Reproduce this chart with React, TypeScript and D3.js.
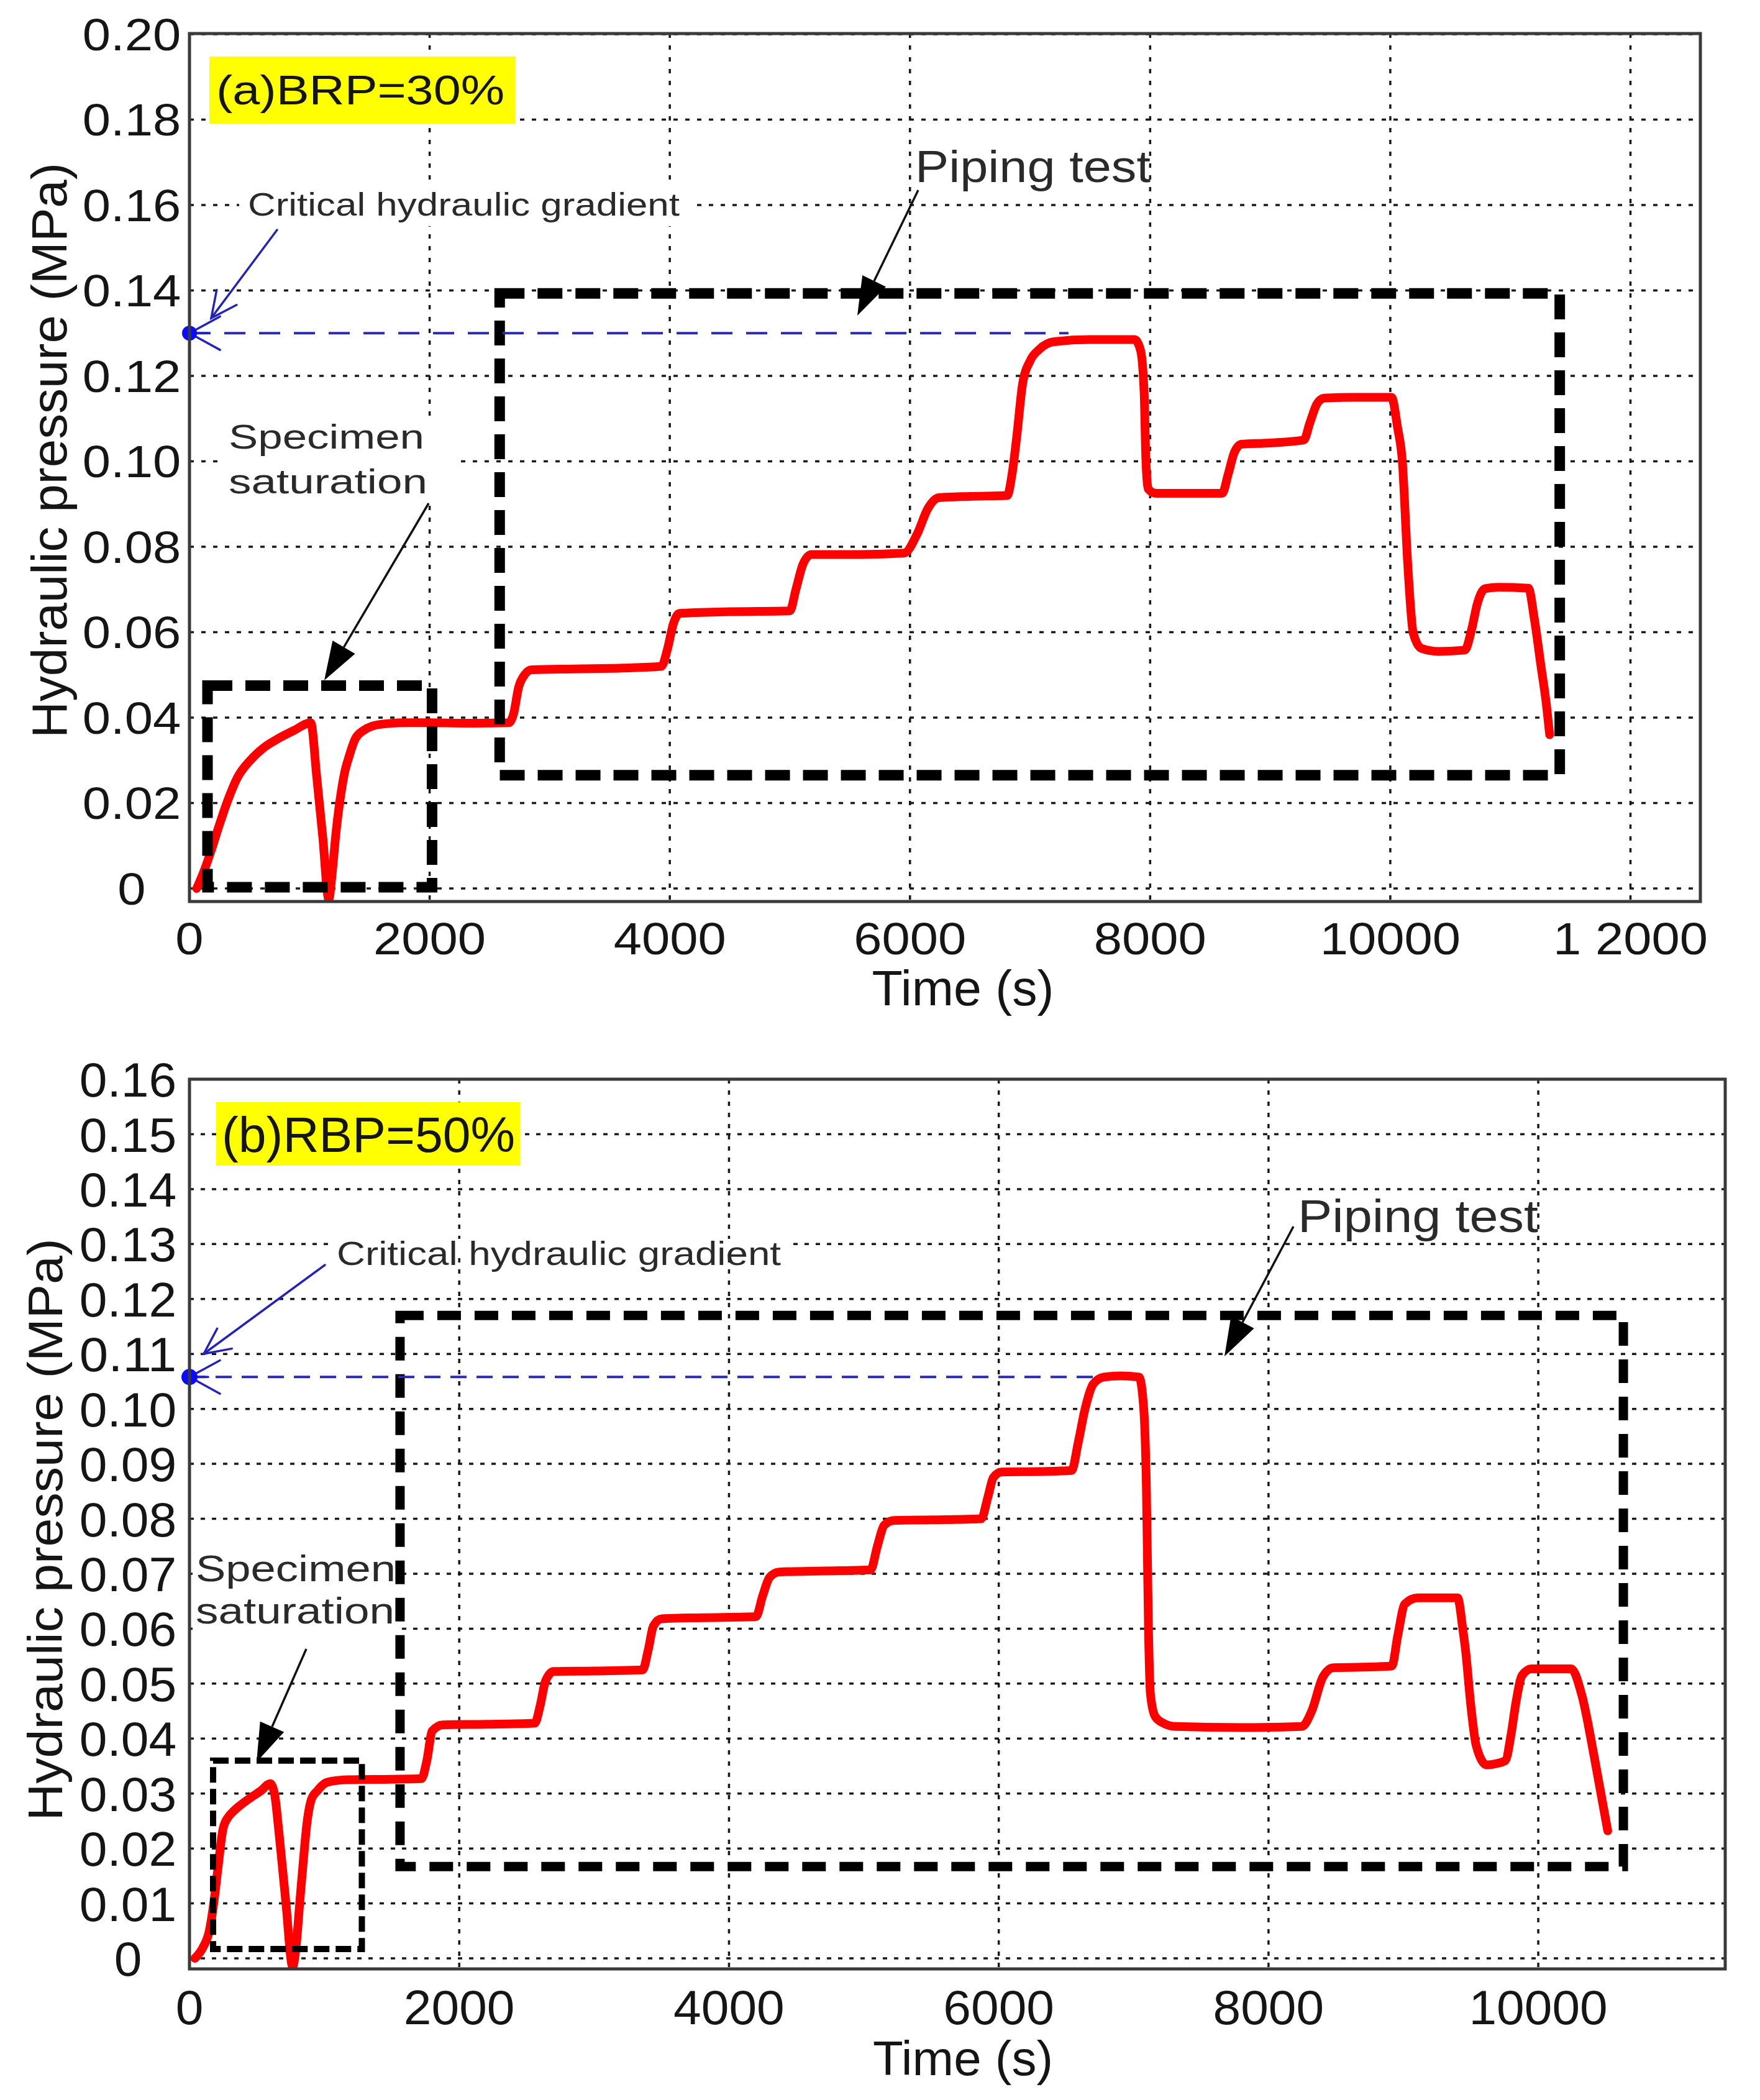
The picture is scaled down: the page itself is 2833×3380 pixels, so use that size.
import React from 'react'
import * as d3 from 'd3'

const W = 2833
const H = 3380
const FONT = '"Liberation Sans", Arial, Helvetica, sans-serif'

// ---- panel (a) BRP = 30% ----
const timeA = [
  60, 120, 181, 250, 320, 400, 506, 620, 733, 870, 1010, 1060, 1110, 1160, 1190, 1219, 1250, 1291,
  1330, 1380, 1450, 1519, 1650, 1800, 2000, 2300, 2660, 2700, 2740, 2790, 2850, 3200, 3600, 3930,
  3980, 4030, 4080, 4500, 5000, 5050, 5110, 5180, 5600, 5950, 6060, 6150, 6240, 6500, 6810, 6850,
  6890, 6937, 7000, 7076, 7200, 7500, 7870, 7920, 7950, 7965, 7985, 8050, 8300, 8600, 8650, 8700,
  8760, 9000, 9280, 9330, 9390, 9450, 9700, 10010, 10060, 10100, 10144, 10191, 10260, 10400, 10620,
  10680, 10723, 10790, 10900, 11150, 11200, 11255, 11300, 11327,
]
const pressureA = [
  0, 0.004, 0.0089, 0.015, 0.0207, 0.026, 0.03, 0.033, 0.035, 0.037, 0.0388, 0.026, 0.012, -0.0025,
  0.004, 0.0128, 0.02, 0.027, 0.031, 0.035, 0.037, 0.038, 0.0386, 0.0388, 0.0388, 0.0387, 0.0388,
  0.041, 0.047, 0.05, 0.0512, 0.0514, 0.0516, 0.052, 0.056, 0.062, 0.0644, 0.0648, 0.065, 0.07,
  0.076, 0.0782, 0.0782, 0.0785, 0.083, 0.089, 0.0915, 0.0918, 0.092, 0.097, 0.106, 0.118, 0.1235,
  0.1262, 0.128, 0.1285, 0.1285, 0.126, 0.116, 0.1, 0.0935, 0.0925, 0.0925, 0.0925, 0.097, 0.102,
  0.104, 0.1043, 0.105, 0.109, 0.1135, 0.1148, 0.115, 0.115, 0.108, 0.1, 0.0765, 0.0598, 0.0562,
  0.0555, 0.0558, 0.061, 0.0665, 0.0702, 0.0705, 0.0703, 0.063, 0.052, 0.043, 0.036,
]
const xTicksA = [0, 2000, 4000, 6000, 8000, 10000, 12000]
const xTickLabelsA = ['0', '2000', '4000', '6000', '8000', '10000', '1 2000']
const yTicksA = [0, 0.02, 0.04, 0.06, 0.08, 0.1, 0.12, 0.14, 0.16, 0.18, 0.2]
const yTickLabelsA = ['0', '0.02', '0.04', '0.06', '0.08', '0.10', '0.12', '0.14', '0.16', '0.18', '0.20']
const criticalA = 0.13
const criticalEndA = 7320
const saturationBoxA = [150, 2020, 0.0003, 0.0475] // t0, t1, p0, p1
const pipingBoxA = [2583, 11411, 0.0265, 0.1393]

// ---- panel (b) RBP = 50% ----
const timeB = [
  40, 100, 147, 185, 212, 249, 290, 327, 400, 456, 530, 598, 630, 663, 714, 765, 790, 818, 845, 869,
  905, 948, 1000, 1050, 1179, 1500, 1720, 1760, 1800, 1878, 2200, 2560, 2600, 2640, 2700, 3000, 3360,
  3400, 3440, 3500, 3800, 4200, 4250, 4300, 4370, 4700, 5050, 5100, 5150, 5220, 5500, 5870, 5920,
  5960, 6020, 6300, 6540, 6590, 6640, 6700, 6780, 6900, 7040, 7075, 7095, 7110, 7125, 7160, 7220,
  7308, 7800, 8247, 8320, 8403, 8481, 8700, 8914, 8960, 9011, 9107, 9402, 9440, 9462, 9500, 9540,
  9618, 9700, 9756, 9800, 9834, 9880, 9950, 10244, 10322, 10420, 10515,
]
const pressureB = [
  0, 0.002, 0.005, 0.011, 0.0166, 0.0236, 0.0258, 0.0268, 0.0283, 0.0293, 0.0305, 0.0318, 0.03,
  0.023, 0.0103, -0.0015, 0.002, 0.0103, 0.018, 0.0242, 0.029, 0.0305, 0.0318, 0.0322, 0.0325,
  0.0326, 0.0327, 0.036, 0.0414, 0.0425, 0.0426, 0.0428, 0.046, 0.0505, 0.0522, 0.0523, 0.0525,
  0.056, 0.0605, 0.0618, 0.062, 0.0622, 0.066, 0.0693, 0.0703, 0.0705, 0.0707, 0.075, 0.0788,
  0.0797, 0.0798, 0.08, 0.084, 0.0875, 0.0885, 0.0886, 0.0888, 0.094, 0.1, 0.1045, 0.1058, 0.106,
  0.1058, 0.1, 0.085, 0.06, 0.048, 0.044, 0.0428, 0.0422, 0.042, 0.0422, 0.045, 0.0512, 0.0529,
  0.053, 0.0532, 0.059, 0.0645, 0.0656, 0.0656, 0.06, 0.0558, 0.046, 0.0387, 0.0352, 0.0355, 0.036,
  0.041, 0.0465, 0.0515, 0.0527, 0.0527, 0.048, 0.036, 0.0232,
]
const xTicksB = [0, 2000, 4000, 6000, 8000, 10000]
const xTickLabelsB = ['0', '2000', '4000', '6000', '8000', '10000']
const yTicksB = [0, 0.01, 0.02, 0.03, 0.04, 0.05, 0.06, 0.07, 0.08, 0.09, 0.1, 0.11, 0.12, 0.13, 0.14, 0.15, 0.16]
const yTickLabelsB = [
  '0', '0.01', '0.02', '0.03', '0.04', '0.05', '0.06', '0.07', '0.08', '0.09', '0.10', '0.11', '0.12',
  '0.13', '0.14', '0.15', '0.16',
]
const criticalB = 0.1058
const criticalEndB = 6720
const saturationBoxB = [175, 1278, 0.0017, 0.036]
const pipingBoxB = [1561, 10631, 0.0167, 0.117]

const CHAR_W: Record<string, number> = { '.': 0.278, ' ': 0.278 }
const textWidth = (s: string, size: number) =>
  s.split('').reduce((acc, c) => acc + (CHAR_W[c] ?? 0.556), 0) * size

type Arrow = { x1: number; y1: number; x2: number; y2: number }

function SolidArrow({ x1, y1, x2, y2 }: Arrow) {
  const a = Math.atan2(y2 - y1, x2 - x1)
  const len = 62
  const half = 21
  const bx = x2 - len * Math.cos(a)
  const by = y2 - len * Math.sin(a)
  const px = -Math.sin(a) * half
  const py = Math.cos(a) * half
  return (
    <g>
      <line x1={x1} y1={y1} x2={bx} y2={by} stroke="#111" strokeWidth={3.5} />
      <polygon points={`${x2},${y2} ${bx + px},${by + py} ${bx - px},${by - py}`} fill="#000" />
    </g>
  )
}

function OpenArrow({ x1, y1, x2, y2, len = 46, spread = 0.45, color = '#2323b8', width = 3.5 }: Arrow & {
  len?: number
  spread?: number
  color?: string
  width?: number
}) {
  const a = Math.atan2(y1 - y2, x1 - x2)
  const arm = (s: number) => [x2 + len * Math.cos(a + s), y2 + len * Math.sin(a + s)]
  const [ax, ay] = arm(spread)
  const [bx, by] = arm(-spread)
  return (
    <g stroke={color} strokeWidth={width} fill="none" strokeLinecap="round">
      <line x1={x1} y1={y1} x2={x2} y2={y2} />
      <polyline points={`${ax},${ay} ${x2},${y2} ${bx},${by}`} />
    </g>
  )
}

interface PanelConfig {
  frame: { left: number; right: number; top: number; bottom: number }
  xDomain: [number, number]
  yDomain: [number, number]
  times: number[]
  pressures: number[]
  xTicks: number[]
  xTickLabels: string[]
  yTicks: number[]
  yTickLabels: string[]
  critical: number
  criticalEnd: number
  satBox: number[]
  pipeBox: number[]
  id: string
  look: {
    tickSize: number
    tickStretch: number
    yLabelX: number
    xLabelY: number
    gridDash: string
    boxStroke: number
    boxDash: string
    satStroke: number
    satDash: string
    blueDash: string
    dotR: number
  }
  label: { rect: number[]; text: string; x: number; y: number; size: number; len: number }
  crit: { x: number; y: number; size: number; len: number; bg: number[]; arrow: Arrow }
  piping: { x: number; y: number; size: number; len: number; arrow: Arrow }
  spec: { x: number; y1: number; y2: number; size: number; len1: number; len2: number; bg: number[]; arrow: Arrow }
  yTitle: { x: number; y: number; size: number; len: number }
  xTitle: { x: number; y: number; size: number; len: number }
}

function Panel({ cfg }: { cfg: PanelConfig }) {
  const { frame, look } = cfg
  const x = d3.scaleLinear().domain(cfg.xDomain).range([frame.left, frame.right])
  const y = d3.scaleLinear().domain(cfg.yDomain).range([frame.bottom, frame.top])
  const pts = cfg.times.map((t, i) => [t, cfg.pressures[i]] as [number, number])
  const line = d3
    .line<[number, number]>()
    .x((d) => x(d[0]))
    .y((d) => y(d[1]))
    .curve(d3.curveMonotoneX)
  const boxPath = (b: number[]) =>
    `M${x(b[0])},${y(b[3])}H${x(b[1])}V${y(b[2])}H${x(b[0])}Z`
  const dotX = x(0)
  const dotY = y(cfg.critical)

  return (
    <g>
      <defs>
        <clipPath id={`clip-${cfg.id}`}>
          <rect x={frame.left} y={frame.top} width={frame.right - frame.left} height={frame.bottom - frame.top} />
        </clipPath>
      </defs>

      {/* grid */}
      <g stroke="#1a1a1a" strokeWidth={3.5} strokeDasharray={look.gridDash}>
        {cfg.xTicks.map((t) => (
          <line key={`gx${t}`} x1={x(t)} x2={x(t)} y1={frame.top} y2={frame.bottom} />
        ))}
        {cfg.yTicks.map((t) => (
          <line key={`gy${t}`} x1={frame.left} x2={frame.right} y1={y(t)} y2={y(t)} />
        ))}
      </g>

      {/* white patches behind the notes */}
      <rect x={cfg.crit.bg[0]} y={cfg.crit.bg[1]} width={cfg.crit.bg[2]} height={cfg.crit.bg[3]} fill="#fff" />
      <rect x={cfg.spec.bg[0]} y={cfg.spec.bg[1]} width={cfg.spec.bg[2]} height={cfg.spec.bg[3]} fill="#fff" />
      <rect
        x={cfg.label.rect[0]}
        y={cfg.label.rect[1]}
        width={cfg.label.rect[2]}
        height={cfg.label.rect[3]}
        fill="#ffff00"
      />

      {/* pressure curve */}
      <path
        d={line(pts) ?? ''}
        fill="none"
        stroke="#ff0000"
        strokeWidth={14}
        strokeLinejoin="round"
        strokeLinecap="round"
        clipPath={`url(#clip-${cfg.id})`}
      />

      {/* dashed boxes */}
      <path d={boxPath(cfg.satBox)} fill="none" stroke="#000" strokeWidth={look.satStroke} strokeDasharray={look.satDash} />
      <path d={boxPath(cfg.pipeBox)} fill="none" stroke="#000" strokeWidth={look.boxStroke} strokeDasharray={look.boxDash} />

      {/* critical hydraulic gradient */}
      <line
        x1={dotX}
        x2={x(cfg.criticalEnd)}
        y1={dotY}
        y2={dotY}
        stroke="#2b2bab"
        strokeWidth={4}
        strokeDasharray={look.blueDash}
      />
      <OpenArrow x1={dotX + 30} y1={dotY} x2={dotX} y2={dotY} len={56} spread={0.5} />
      <circle cx={dotX} cy={dotY} r={look.dotR} fill="#0a0aff" />
      <OpenArrow {...cfg.crit.arrow} />

      {/* frame */}
      <rect
        x={frame.left}
        y={frame.top}
        width={frame.right - frame.left}
        height={frame.bottom - frame.top}
        fill="none"
        stroke="#3a3a3a"
        strokeWidth={5}
      />

      <SolidArrow {...cfg.piping.arrow} />
      <SolidArrow {...cfg.spec.arrow} />

      <g fontFamily={FONT} fill="#151515">
        {cfg.yTicks.map((t, i) => {
          const s = cfg.yTickLabels[i]
          return (
            <text
              key={`ly${t}`}
              x={look.yLabelX}
              y={y(t) + look.tickSize * 0.36}
              fontSize={look.tickSize}
              textAnchor="middle"
              textLength={textWidth(s, look.tickSize) * look.tickStretch}
              lengthAdjust="spacingAndGlyphs"
            >
              {s}
            </text>
          )
        })}
        {cfg.xTicks.map((t, i) => {
          const s = cfg.xTickLabels[i]
          return (
            <text
              key={`lx${t}`}
              x={x(t)}
              y={look.xLabelY}
              fontSize={look.tickSize}
              textAnchor="middle"
              textLength={textWidth(s, look.tickSize) * look.tickStretch}
              lengthAdjust="spacingAndGlyphs"
            >
              {s}
            </text>
          )
        })}

        <text
          transform={`translate(${cfg.yTitle.x},${cfg.yTitle.y}) rotate(-90)`}
          fontSize={cfg.yTitle.size}
          textAnchor="middle"
          textLength={cfg.yTitle.len}
          lengthAdjust="spacingAndGlyphs"
        >
          Hydraulic pressure (MPa)
        </text>
        <text
          x={cfg.xTitle.x}
          y={cfg.xTitle.y}
          fontSize={cfg.xTitle.size}
          textAnchor="middle"
          textLength={cfg.xTitle.len}
          lengthAdjust="spacingAndGlyphs"
        >
          Time (s)
        </text>

        <text x={cfg.label.x} y={cfg.label.y} fontSize={cfg.label.size} textLength={cfg.label.len} lengthAdjust="spacingAndGlyphs">
          {cfg.label.text}
        </text>
        <text x={cfg.crit.x} y={cfg.crit.y} fontSize={cfg.crit.size} fill="#2a2a2a" textLength={cfg.crit.len} lengthAdjust="spacingAndGlyphs">
          Critical hydraulic gradient
        </text>
        <text x={cfg.piping.x} y={cfg.piping.y} fontSize={cfg.piping.size} fill="#2a2a2a" textLength={cfg.piping.len} lengthAdjust="spacingAndGlyphs">
          Piping test
        </text>
        <text x={cfg.spec.x} y={cfg.spec.y1} fontSize={cfg.spec.size} fill="#2a2a2a" textLength={cfg.spec.len1} lengthAdjust="spacingAndGlyphs">
          Specimen
        </text>
        <text x={cfg.spec.x} y={cfg.spec.y2} fontSize={cfg.spec.size} fill="#2a2a2a" textLength={cfg.spec.len2} lengthAdjust="spacingAndGlyphs">
          saturation
        </text>
      </g>
    </g>
  )
}

const panelA: PanelConfig = {
  id: 'a',
  frame: { left: 305, right: 2737, top: 54, bottom: 1451 },
  xDomain: [0, 12582],
  yDomain: [-0.00305, 0.20015],
  times: timeA,
  pressures: pressureA,
  xTicks: xTicksA,
  xTickLabels: xTickLabelsA,
  yTicks: yTicksA,
  yTickLabels: yTickLabelsA,
  critical: criticalA,
  criticalEnd: criticalEndA,
  satBox: saturationBoxA,
  pipeBox: pipingBoxA,
  look: {
    tickSize: 72,
    tickStretch: 1.13,
    yLabelX: 212,
    xLabelY: 1536,
    gridDash: '7 12',
    boxStroke: 17,
    boxDash: '40 21',
    satStroke: 17,
    satDash: '40 21',
    blueDash: '34 22',
    dotR: 12,
  },
  label: { rect: [337, 91, 493, 108], text: '(a)BRP=30%', x: 348, y: 168, size: 66, len: 464 },
  crit: { x: 399, y: 347, size: 52, len: 695, bg: [385, 298, 725, 66], arrow: { x1: 446, y1: 370, x2: 340, y2: 512 } },
  piping: { x: 1473, y: 293, size: 72, len: 379, arrow: { x1: 1478, y1: 306, x2: 1380, y2: 508 } },
  spec: {
    x: 368,
    y1: 722,
    y2: 794,
    size: 56,
    len1: 315,
    len2: 320,
    bg: [362, 670, 370, 140],
    arrow: { x1: 690, y1: 810, x2: 522, y2: 1095 },
  },
  yTitle: { x: 107, y: 725, size: 80, len: 926 },
  xTitle: { x: 1550, y: 1618, size: 80, len: 293 },
}

const panelB: PanelConfig = {
  id: 'b',
  frame: { left: 305, right: 2777, top: 1737, bottom: 3169 },
  xDomain: [0, 11386],
  yDomain: [-0.00192, 0.16],
  times: timeB,
  pressures: pressureB,
  xTicks: xTicksB,
  xTickLabels: xTickLabelsB,
  yTicks: yTicksB,
  yTickLabels: yTickLabelsB,
  critical: criticalB,
  criticalEnd: criticalEndB,
  satBox: saturationBoxB,
  pipeBox: pipingBoxB,
  look: {
    tickSize: 78,
    tickStretch: 1.03,
    yLabelX: 206,
    xLabelY: 3258,
    gridDash: '7 11',
    boxStroke: 15,
    boxDash: '38 22',
    satStroke: 10,
    satDash: '25 10',
    blueDash: '26 16',
    dotR: 13,
  },
  label: { rect: [348, 1774, 489, 102], text: '(b)RBP=50%', x: 357, y: 1854, size: 80, len: 472 },
  crit: { x: 542, y: 2036, size: 54, len: 715, bg: [532, 1994, 735, 22], arrow: { x1: 523, y1: 2036, x2: 328, y2: 2179 } },
  piping: { x: 2089, y: 1983, size: 74, len: 387, arrow: { x1: 2082, y1: 1974, x2: 1971, y2: 2183 } },
  spec: {
    x: 315,
    y1: 2545,
    y2: 2613,
    size: 60,
    len1: 322,
    len2: 320,
    bg: [310, 2490, 330, 140],
    arrow: { x1: 493, y1: 2654, x2: 413, y2: 2836 },
  },
  yTitle: { x: 100, y: 2462, size: 78, len: 937 },
  xTitle: { x: 1550, y: 3340, size: 78, len: 290 },
}

export default function App() {
  return (
    <svg
      width={W}
      height={H}
      viewBox={`0 0 ${W} ${H}`}
      style={{ position: 'absolute', left: 0, top: 0, background: '#fff' }}
    >
      <rect width={W} height={H} fill="#fff" />
      <Panel cfg={panelA} />
      <Panel cfg={panelB} />
    </svg>
  )
}
